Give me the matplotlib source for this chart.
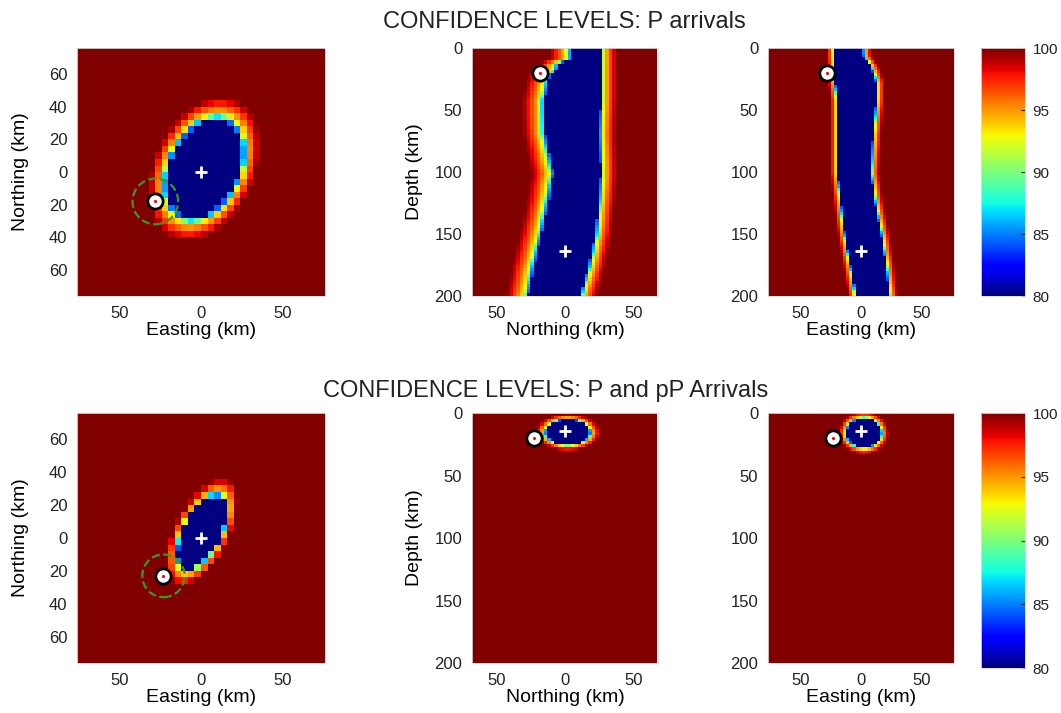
import numpy as np
import matplotlib
matplotlib.use('Agg')
import matplotlib.pyplot as plt
from matplotlib.patches import Circle
from matplotlib.ticker import FuncFormatter

plt.rcParams['font.family'] = ['Liberation Sans', 'DejaVu Sans']

# escala de confianza (%)
nivel_min, nivel_max = 80, 100
ticks_cbar = [80, 85, 90, 95, 100]
# perfil de la banda de transicion: distancia relativa fuera de la zona del 80% -> nivel
dist_banda = [0, 0.12, 0.2, 0.5, 1.0]
nivel_banda = [84, 87, 92.5, 96, 100]

titulo_p = 'CONFIDENCE LEVELS: P arrivals'
titulo_ppp = 'CONFIDENCE LEVELS: P and pP Arrivals'

# ---- zona del 80% en planta: [centro E, centro N, semieje mayor, semieje menor, angulo, ancho relativo de banda]
elipse_p = [2, 2, 32, 21, 65, 0.45]
elipse_ppp = [0.5, 3.5, 24, 11, 63, 0.5]

# ---- P arrivals: bordes de la zona del 80% frente a la profundidad
prof_n = [0, 10, 12, 18, 21, 42, 69, 101, 123, 150, 177, 200]
norte_izq = [4.5, 4.5, -5, -6, -11, -15, -14.6, -8.5, -12, -17, -23, -27]
norte_der = [26, 26, 26, 26, 26, 26, 25, 26, 24.5, 22, 17, 11]
banda_norte = [16, 12]

prof_e = [0, 6, 15, 28, 42, 69, 101, 123, 150, 177, 200]
este_izq = [-22, -22, -21.5, -21, -19, -19, -19, -16.4, -13, -8, -4]
este_der = [1.4, 1.4, 8, 12.3, 12.3, 9.6, 8, 11, 16.4, 20.6, 23.3]
banda_este = [6, 7]

# ---- P y pP: zona del 80% en seccion [centro x, centro z, semieje x, semieje z, ancho relativo de banda]
mancha_norte = [2, 15.5, 16, 10, 0.45]
mancha_este = [2.3, 16, 14, 11.5, 0.45]

# estacion (circulo blanco) y solucion (+): [E, N, prof]
estacion_p = [-28, -18, 20]
estacion_ppp = [-23, -23, 20]
radio_p, radio_ppp = 14, 13
solucion_p = [0, 0, 164]
solucion_ppp = [0, 0, 14]

# rejillas
lim_mapa, paso_mapa = 76, 4
lim_norte, lim_este, paso_sec = 68, 77, 2.5
prof_max = 200


def centros(a, b, paso):
    return np.arange(a + paso / 2, b, paso)


def escala(d):
    # d: distancia relativa fuera de la zona del 80% (<=0 dentro)
    v = np.interp(d, dist_banda, nivel_banda)
    return np.where(d <= 0, nivel_min, v)


def campo_elipse(x, y, cx, cy, a, b, ang, k):
    X, Y = np.meshgrid(x, y)
    t = np.radians(ang)
    u = (X - cx) * np.cos(t) + (Y - cy) * np.sin(t)
    v = -(X - cx) * np.sin(t) + (Y - cy) * np.cos(t)
    r = np.sqrt((u / a) ** 2 + (v / b) ** 2)
    return escala((r - 1) / k)


def campo_banda(x, z, prof, izq, der, anchos):
    X, Z = np.meshgrid(x, z)
    L = np.interp(z, prof, izq)[:, None]
    R = np.interp(z, prof, der)[:, None]
    d = np.maximum((L - X) / anchos[0], (X - R) / anchos[1])
    return escala(d)


def campo_mancha(x, z, cx, cz, ax_, az, k):
    X, Z = np.meshgrid(x, z)
    r = np.sqrt(((X - cx) / ax_) ** 2 + ((Z - cz) / az) ** 2)
    return escala((r - 1) / k)


fmt_abs = FuncFormatter(lambda v, p: '%d' % abs(v))


def estilo(ax):
    ax.tick_params(length=0, labelsize=12, colors='#222222', pad=7)
    for s in ax.spines.values():
        s.set_color('#dddddd')
        s.set_linewidth(0.6)


def marcar(ax, x, y, xs, ys):
    ax.plot(x, y, 'o', ms=11, mfc='white', mec='black', mew=2)
    ax.plot(x, y, '.', ms=2.5, color='red')
    ax.plot(xs, ys, '+', ms=8, mew=2, color='white')


def panel_mapa(pos, campo, x, est, sol, radio):
    ax = fig.add_axes(pos)
    im = ax.pcolormesh(x, x, campo, cmap='jet', vmin=nivel_min, vmax=nivel_max, shading='nearest')
    ax.add_patch(Circle((est[0], est[1]), radio, fill=False, ls='--', lw=1.6, color='#3a9a1c'))
    marcar(ax, est[0], est[1], sol[0], sol[1])
    ax.set_xlim(-lim_mapa, lim_mapa)
    ax.set_ylim(-lim_mapa, lim_mapa)
    ax.set_xticks([-50, 0, 50])
    ax.set_yticks([-60, -40, -20, 0, 20, 40, 60])
    ax.xaxis.set_major_formatter(fmt_abs)
    ax.yaxis.set_major_formatter(fmt_abs)
    ax.set_xlabel('Easting (km)', fontsize=14, labelpad=1)
    ax.set_ylabel('Northing (km)', fontsize=14, labelpad=14)
    estilo(ax)
    return im


def panel_seccion(pos, campo, x, z, lim, est_x, est_z, sol_x, sol_z, xlabel, ylabel=None):
    ax = fig.add_axes(pos)
    ax.pcolormesh(x, z, campo, cmap='jet', vmin=nivel_min, vmax=nivel_max, shading='nearest')
    marcar(ax, est_x, est_z, sol_x, sol_z)
    ax.set_xlim(-lim, lim)
    ax.set_ylim(prof_max, 0)
    ax.set_xticks([-50, 0, 50])
    ax.set_yticks([0, 50, 100, 150, 200])
    ax.xaxis.set_major_formatter(fmt_abs)
    ax.set_xlabel(xlabel, fontsize=14, labelpad=1)
    if ylabel:
        ax.set_ylabel(ylabel, fontsize=14, labelpad=8)
    estilo(ax)


fig = plt.figure(figsize=(10.61, 7.13), dpi=100)

xm = centros(-lim_mapa, lim_mapa, paso_mapa)
xn = centros(-lim_norte, lim_norte, paso_sec)
xe = centros(-lim_este, lim_este, paso_sec)
zz = centros(0, prof_max, paso_sec)

filas = [0.5848, 0.0701]
alto = [0.3478, 0.3506]
cols = [(0.0726, 0.2337), (0.4449, 0.1753), (0.7238, 0.1753)]

# fila superior: P arrivals
im = panel_mapa([cols[0][0], filas[0], cols[0][1], alto[0]], campo_elipse(xm, xm, *elipse_p),
                xm, estacion_p, solucion_p, radio_p)
panel_seccion([cols[1][0], filas[0], cols[1][1], alto[0]],
              campo_banda(xn, zz, prof_n, norte_izq, norte_der, banda_norte), xn, zz, lim_norte,
              estacion_p[1], estacion_p[2], solucion_p[1], solucion_p[2], 'Northing (km)', 'Depth (km)')
panel_seccion([cols[2][0], filas[0], cols[2][1], alto[0]],
              campo_banda(xe, zz, prof_e, este_izq, este_der, banda_este), xe, zz, lim_este,
              estacion_p[0], estacion_p[2], solucion_p[0], solucion_p[2], 'Easting (km)')

# fila inferior: P y pP
panel_mapa([cols[0][0], filas[1], cols[0][1], alto[1]], campo_elipse(xm, xm, *elipse_ppp),
           xm, estacion_ppp, solucion_ppp, radio_ppp)
panel_seccion([cols[1][0], filas[1], cols[1][1], alto[1]],
              campo_mancha(xn, zz, *mancha_norte), xn, zz, lim_norte,
              estacion_ppp[1], estacion_ppp[2], solucion_ppp[1], solucion_ppp[2], 'Northing (km)', 'Depth (km)')
panel_seccion([cols[2][0], filas[1], cols[2][1], alto[1]],
              campo_mancha(xe, zz, *mancha_este), xe, zz, lim_este,
              estacion_ppp[0], estacion_ppp[2], solucion_ppp[0], solucion_ppp[2], 'Easting (km)')

# barras de color
for pos in [[0.925, 0.5848, 0.0415, 0.3478], [0.925, 0.0631, 0.0415, 0.3576]]:
    cax = fig.add_axes(pos)
    cb = fig.colorbar(im, cax=cax, ticks=ticks_cbar)
    cb.outline.set_edgecolor('#dddddd')
    cb.outline.set_linewidth(0.6)
    cax.tick_params(length=3, direction='in', labelsize=11, colors='#222222', pad=5)

fig.text(0.532, 0.969, titulo_p, ha='center', va='center', fontsize=17, color='#222222')
fig.text(0.514, 0.452, titulo_ppp, ha='center', va='center', fontsize=17, color='#222222')

fig.savefig('out.png', dpi=100)
